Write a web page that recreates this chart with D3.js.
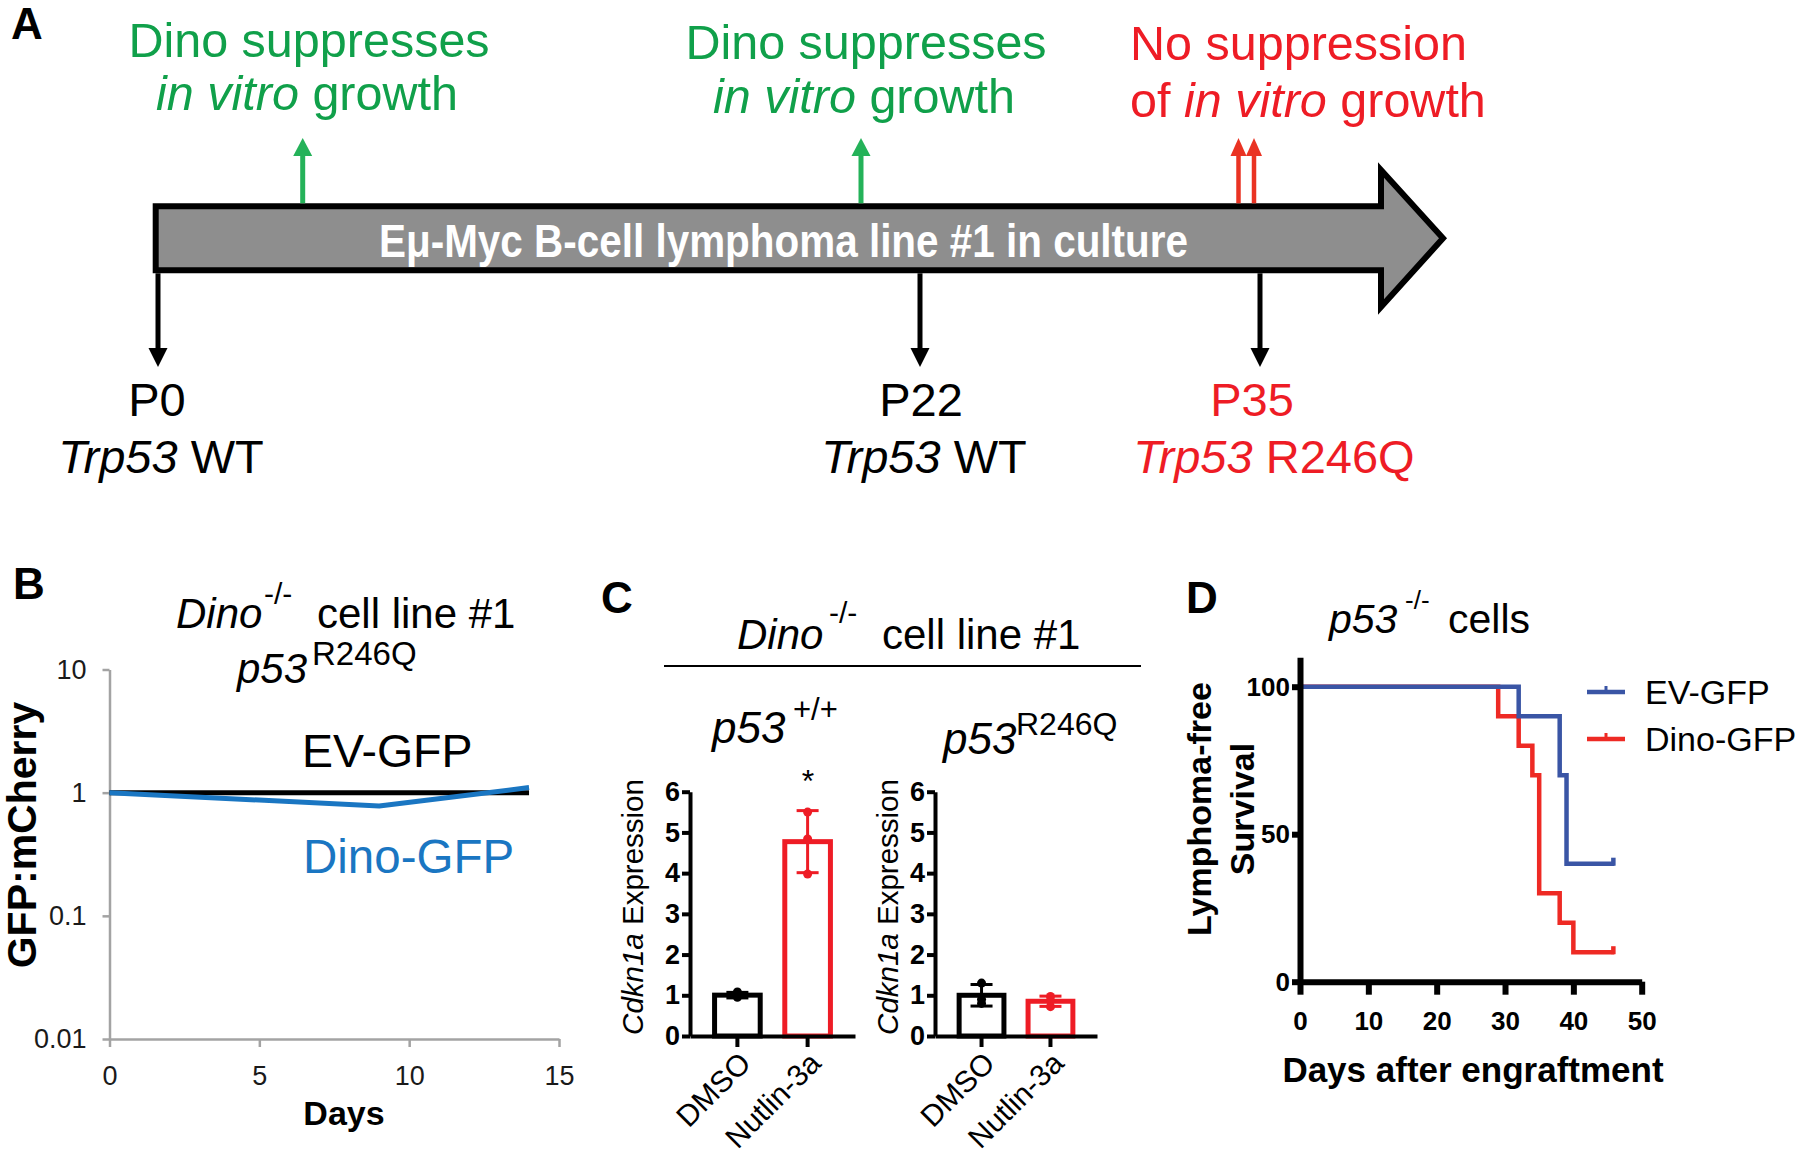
<!DOCTYPE html>
<html><head><meta charset="utf-8">
<script src="https://cdn.jsdelivr.net/npm/d3@7"></script>
<style>
body{margin:0;background:#fff}
svg{display:block}
text{font-family:"Liberation Sans",Arial,Helvetica,sans-serif}
</style>
</head><body>
<svg id="fig" width="1800" height="1155"></svg>
<script>
// ================= DATA =================
// Panel A – passages along the culture timeline
const passageLabels = ["P0", "P22", "P35"];
const passageGenotypes = ["WT", "WT", "R246Q"];
const passageColors = ["#000000", "#000000", "#ee1c25"];
// Panel B – GFP:mCherry competition (log scale)
const bDaysEV = [0, 9, 14];
const bRatioEV = [1.0, 1.0, 1.0];
const bDaysDino = [0, 9, 14];
const bRatioDino = [1.0, 0.78, 1.1];
const bYTicks = [0.01, 0.1, 1, 10];
const bYTickLabels = ["0.01", "0.1", "1", "10"];
const bXTicks = [0, 5, 10, 15];
// Panel C – Cdkn1a expression (replicates)
const cConditions = ["DMSO", "Nutlin-3a"];
const cWtDMSO = [1.08, 0.98, 0.95];
const cWtNutlin = [5.5, 4.84, 3.98];
const cMutDMSO = [1.3, 0.9, 0.8];
const cMutNutlin = [0.97, 0.87, 0.72];
const cYTicks = [0, 1, 2, 3, 4, 5, 6];
// Panel D – Kaplan–Meier lymphoma-free survival
const dEVDays = [0, 32, 38, 39, 46];
const dEVSurv = [100, 90, 70, 40, 40];
const dDinoDays = [0, 29, 32, 34, 35, 38, 40, 46];
const dDinoSurv = [100, 90, 80, 70, 30, 20, 10, 10];
const dXTicks = [0, 10, 20, 30, 40, 50];
const dYTicks = [0, 50, 100];

// ================= HELPERS =================
const FONT = "Liberation Sans, Arial, sans-serif";
const svg = d3.select("#fig");
svg.append("rect").attr("width", 1800).attr("height", 1155).attr("fill", "#fff");

function rich(sel, x, y, parts, attrs) {
  const t = sel.append("text").attr("x", x).attr("y", y);
  for (const k in (attrs || {})) t.attr(k, attrs[k]);
  parts.forEach(p => {
    const s = t.append("tspan").text(p.t);
    if (p.it) s.attr("font-style", "italic");
    if (p.size) s.attr("font-size", p.size);
    if (p.x !== undefined) s.attr("x", p.x);
    if (p.y !== undefined) s.attr("y", p.y);
    if (p.fill) s.attr("fill", p.fill);
  });
  return t;
}
function upArrow(g, x, yBase, yTip, color, shaft, headW, headL) {
  g.append("line").attr("x1", x).attr("x2", x).attr("y1", yBase).attr("y2", yTip + headL - 1)
    .attr("stroke", color).attr("stroke-width", shaft);
  g.append("path").attr("d", `M${x},${yTip} L${x - headW / 2},${yTip + headL} L${x + headW / 2},${yTip + headL} Z`).attr("fill", color);
}
function downArrow(g, x, yBase, yTip, color, shaft, headW, headL) {
  g.append("line").attr("x1", x).attr("x2", x).attr("y1", yBase).attr("y2", yTip - headL + 1)
    .attr("stroke", color).attr("stroke-width", shaft);
  g.append("path").attr("d", `M${x},${yTip} L${x - headW / 2},${yTip - headL} L${x + headW / 2},${yTip - headL} Z`).attr("fill", color);
}
const mean = a => d3.mean(a);
const sd = a => d3.deviation(a);

// Panel letters
[["A", 11, 39], ["B", 13, 599], ["C", 601, 613], ["D", 1186, 613]].forEach(([t, x, y]) =>
  svg.append("text").attr("x", x).attr("y", y).attr("font-size", 44).attr("font-weight", "bold").text(t));

// ================= PANEL A =================
const gA = svg.append("g");
const GREEN_T = "#10a04a", GREEN_A = "#24b259", RED = "#ee1c25", RED_A = "#ea3323";
const passageX = [158, 920, 1260];

rich(gA, 309, 57, [{ t: "Dino suppresses" }], { "font-size": 48.5, fill: GREEN_T, "text-anchor": "middle" });
rich(gA, 307, 110, [{ t: "in vitro", it: true }, { t: " growth" }], { "font-size": 48.5, fill: GREEN_T, "text-anchor": "middle" });
rich(gA, 866, 59, [{ t: "Dino suppresses" }], { "font-size": 48.5, fill: GREEN_T, "text-anchor": "middle" });
rich(gA, 864, 113, [{ t: "in vitro", it: true }, { t: " growth" }], { "font-size": 48.5, fill: GREEN_T, "text-anchor": "middle" });
rich(gA, 1130, 60, [{ t: "No suppression" }], { "font-size": 48.5, fill: RED });
rich(gA, 1130, 117, [{ t: "of " }, { t: "in vitro", it: true }, { t: " growth" }], { "font-size": 48.5, fill: RED });

// big arrow
const bodyL = 155.7, bodyT = 206.3, bodyB = 270.3, headX = 1381, headT = 170, headB = 307, tipX = 1443;
gA.append("path")
  .attr("d", `M${bodyL},${bodyT} L${headX},${bodyT} L${headX},${headT} L${tipX},${(bodyT + bodyB) / 2} L${headX},${headB} L${headX},${bodyB} L${bodyL},${bodyB} Z`)
  .attr("fill", "#8e8e8e").attr("stroke", "#000").attr("stroke-width", 6).attr("stroke-linejoin", "miter");
gA.append("text").attr("x", 379).attr("y", 257).attr("font-size", 46).attr("font-weight", "bold")
  .attr("fill", "#fff").attr("textLength", 809).attr("lengthAdjust", "spacingAndGlyphs")
  .text("Eμ-Myc B-cell lymphoma line #1 in culture");

upArrow(gA, 302.7, bodyT - 3, 138, GREEN_A, 5, 19, 18);
upArrow(gA, 861, bodyT - 3, 138, GREEN_A, 5, 19, 18);
upArrow(gA, 1238.5, bodyT - 3, 138, RED_A, 4.5, 16, 18);
upArrow(gA, 1254, bodyT - 3, 138, RED_A, 4.5, 16, 18);

passageLabels.forEach((p, i) => {
  downArrow(gA, passageX[i], bodyB + 3, 367, "#000", 5, 19, 19);
  const lx = [157, 921, 1252][i], gx = [161, 924, 1274][i];
  rich(gA, lx, 416, [{ t: p }], { "font-size": 47, fill: passageColors[i], "text-anchor": "middle" });
  rich(gA, gx, 473, [{ t: "Trp53", it: true }, { t: " " + passageGenotypes[i] }], { "font-size": 47, fill: passageColors[i], "text-anchor": "middle" });
});

// ================= PANEL B =================
const gB = svg.append("g");
const xB = d3.scaleLinear().domain([0, 15]).range([109.5, 559]);
const yB = d3.scaleLog().domain([0.01, 10]).range([1039, 669.5]);
const GRAY = "#a3a3a3";

const axYB = gB.append("g").attr("transform", `translate(${xB(0)},0)`)
  .call(d3.axisLeft(yB).tickValues(bYTicks).tickFormat((d, i) => bYTickLabels[i]).tickSize(7).tickSizeOuter(0).tickPadding(16));
const axXB = gB.append("g").attr("transform", `translate(0,${yB(0.01)})`)
  .call(d3.axisBottom(xB).tickValues(bXTicks).tickSize(8).tickSizeOuter(0).tickPadding(19));
[axYB, axXB].forEach(a => {
  a.select(".domain").attr("stroke", GRAY).attr("stroke-width", 2.5);
  a.selectAll(".tick line").attr("stroke", GRAY).attr("stroke-width", 2.5);
  a.selectAll(".tick text").attr("font-size", 27).attr("fill", "#1a1a1a").attr("font-family", FONT);
});

const lineB = d3.line().x(d => xB(d[0])).y(d => yB(d[1]));
gB.append("path").attr("d", lineB(d3.zip(bDaysEV, bRatioEV))).attr("fill", "none").attr("stroke", "#000").attr("stroke-width", 5);
gB.append("path").attr("d", lineB(d3.zip(bDaysDino, bRatioDino))).attr("fill", "none").attr("stroke", "#1a76c2").attr("stroke-width", 5).attr("stroke-linejoin", "round");

gB.append("text").attr("x", 302).attr("y", 767).attr("font-size", 46.5).text("EV-GFP");
gB.append("text").attr("x", 303).attr("y", 873).attr("font-size", 47.5).attr("fill", "#1a76c2").text("Dino-GFP");

rich(gB, 176, 628, [{ t: "Dino", it: true }, { t: "-/-", size: 30, x: 264, y: 604 }, { t: "cell line #1", x: 317, y: 628 }], { "font-size": 42 });
rich(gB, 237, 683, [{ t: "p53", it: true }, { t: "R246Q", size: 33, x: 312, y: 665 }], { "font-size": 42 });

gB.append("text").attr("x", 344).attr("y", 1125).attr("font-size", 34).attr("font-weight", "bold").attr("text-anchor", "middle").text("Days");
gB.append("text").attr("transform", "translate(36,835) rotate(-90)").attr("font-size", 41).attr("font-weight", "bold").attr("text-anchor", "middle").text("GFP:mCherry");

// ================= PANEL C =================
const gC = svg.append("g");
rich(gC, 737, 649, [{ t: "Dino", it: true }, { t: "-/-", size: 30, x: 829, y: 623 }, { t: "cell line #1", x: 882, y: 649 }], { "font-size": 42 });
gC.append("line").attr("x1", 664).attr("x2", 1141).attr("y1", 666).attr("y2", 666).attr("stroke", "#000").attr("stroke-width", 2);
rich(gC, 712, 743, [{ t: "p53", it: true }, { t: "+/+", size: 31, x: 793, y: 720 }], { "font-size": 44 });
rich(gC, 943, 754, [{ t: "p53", it: true }, { t: "R246Q", size: 32, x: 1016, y: 735 }], { "font-size": 44 });

function barPanel(g, x0, x1, groups, colors, labelX) {
  const x = d3.scaleBand().domain(cConditions).range([x0, x1]).paddingInner(0.35).paddingOuter(0.35);
  const y = d3.scaleLinear().domain([0, 6]).range([1036, 791.7]);
  groups.forEach((vals, i) => {
    const c = cConditions[i], m = mean(vals), s = sd(vals), col = colors[i];
    const bx = x(c), bw = x.bandwidth(), cx = bx + bw / 2;
    g.append("rect").attr("x", bx).attr("y", y(m)).attr("width", bw).attr("height", y(0) - y(m))
      .attr("fill", "#fff").attr("stroke", col).attr("stroke-width", 5);
    g.append("line").attr("x1", cx).attr("x2", cx).attr("y1", y(m + s)).attr("y2", y(m - s)).attr("stroke", col).attr("stroke-width", 3);
    [m + s, m - s].forEach(v => g.append("line").attr("x1", cx - 11).attr("x2", cx + 11).attr("y1", y(v)).attr("y2", y(v)).attr("stroke", col).attr("stroke-width", 3));
    vals.forEach(v => g.append("circle").attr("cx", cx).attr("cy", y(v)).attr("r", 4.5).attr("fill", col));
  });
  const ay = g.append("g").attr("transform", `translate(${x0},0)`)
    .call(d3.axisLeft(y).tickValues(cYTicks).tickFormat(d3.format("d")).tickSize(8).tickSizeOuter(0).tickPadding(2));
  const ax = g.append("g").attr("transform", `translate(0,${y(0)})`)
    .call(d3.axisBottom(x).tickSize(11).tickSizeOuter(0).tickFormat(""));
  [ay, ax].forEach(a => {
    a.select(".domain").attr("stroke", "#000").attr("stroke-width", 4);
    a.selectAll(".tick line").attr("stroke", "#000").attr("stroke-width", 4);
  });
  ay.selectAll(".tick text").attr("font-size", 27).attr("font-weight", "bold").attr("fill", "#000").attr("font-family", FONT);
  cConditions.forEach(c => {
    const cx = x(c) + x.bandwidth() / 2;
    g.append("text").attr("transform", `translate(${cx + 15},${y(0) + 29}) rotate(-45)`)
      .attr("text-anchor", "end").attr("font-size", 30).text(c);
  });
  rich(g, 0, 0, [{ t: "Cdkn1a", it: true }, { t: " Expression" }],
    { "font-size": 29.5, "text-anchor": "middle", transform: `translate(${labelX},907) rotate(-90)` });
}
barPanel(gC, 690, 855, [cWtDMSO, cWtNutlin], ["#000", "#ee1c25"], 643);
barPanel(gC, 935, 1097, [cMutDMSO, cMutNutlin], ["#000", "#ee1c25"], 898);
gC.append("text").attr("x", 808).attr("y", 792).attr("font-size", 32).attr("text-anchor", "middle").text("*");

// ================= PANEL D =================
const gD = svg.append("g");
const xD = d3.scaleLinear().domain([0, 50]).range([1300, 1641.7]);
const yD = d3.scaleLinear().domain([0, 110]).range([981.7, 981.7 - 2.95 * 110]);
const BLUE_D = "#3a55a5", RED_D = "#ee2a24";

const lineD = d3.line().curve(d3.curveStepAfter).x(d => xD(d[0])).y(d => yD(d[1]));
[[dDinoDays, dDinoSurv, RED_D], [dEVDays, dEVSurv, BLUE_D]].forEach(([dd, ss, col]) => {
  gD.append("path").attr("d", lineD(d3.zip(dd, ss))).attr("fill", "none").attr("stroke", col).attr("stroke-width", 4.5);
  const lx = dd[dd.length - 1], ly = ss[ss.length - 1];
  gD.append("line").attr("x1", xD(lx) - 1).attr("x2", xD(lx) - 1).attr("y1", yD(ly) + 2).attr("y2", yD(ly) - 6).attr("stroke", col).attr("stroke-width", 4.5);
});

const axYD = gD.append("g").attr("transform", `translate(${xD(0)},0)`)
  .call(d3.axisLeft(yD).tickValues(dYTicks).tickSize(8).tickSizeOuter(0).tickPadding(2));
const axXD = gD.append("g").attr("transform", `translate(0,${yD(0)})`)
  .call(d3.axisBottom(xD).tickValues(dXTicks).tickSize(13).tickSizeOuter(0).tickPadding(17));
[axYD, axXD].forEach(a => {
  a.select(".domain").attr("stroke", "#000").attr("stroke-width", 6);
  a.selectAll(".tick line").attr("stroke", "#000").attr("stroke-width", 6);
  a.selectAll(".tick text").attr("font-size", 26).attr("font-weight", "bold").attr("fill", "#000").attr("font-family", FONT);
});

[["EV-GFP", BLUE_D, 692, 704], ["Dino-GFP", RED_D, 739, 751]].forEach(([t, col, ly, ty]) => {
  gD.append("line").attr("x1", 1587).attr("x2", 1625).attr("y1", ly).attr("y2", ly).attr("stroke", col).attr("stroke-width", 4.5);
  gD.append("line").attr("x1", 1606).attr("x2", 1606).attr("y1", ly).attr("y2", ly - 6).attr("stroke", col).attr("stroke-width", 3);
  gD.append("text").attr("x", 1645).attr("y", ty).attr("font-size", 34).text(t);
});

rich(gD, 1329, 633, [{ t: "p53", it: true }, { t: "-/-", size: 26, x: 1405, y: 609 }, { t: "cells", x: 1448, y: 633 }], { "font-size": 41 });
gD.append("text").attr("x", 1473).attr("y", 1082).attr("font-size", 35).attr("font-weight", "bold").attr("text-anchor", "middle").text("Days after engraftment");
gD.append("text").attr("transform", "translate(1211,809) rotate(-90)").attr("font-size", 34).attr("font-weight", "bold").attr("text-anchor", "middle").text("Lymphoma-free");
gD.append("text").attr("transform", "translate(1254,809) rotate(-90)").attr("font-size", 34).attr("font-weight", "bold").attr("text-anchor", "middle").text("Survival");
</script>
</body></html>
